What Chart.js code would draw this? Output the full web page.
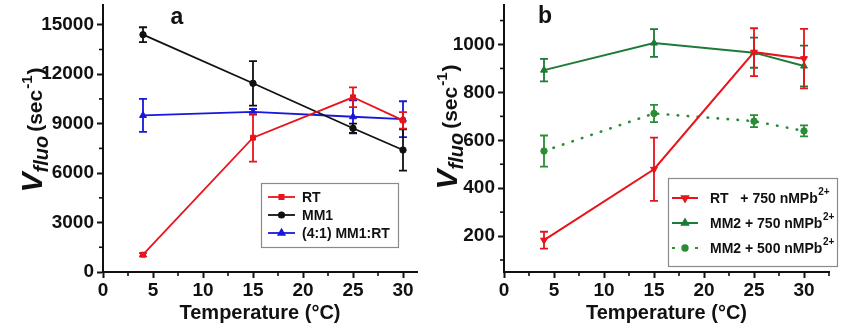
<!DOCTYPE html>
<html>
<head>
<meta charset="utf-8">
<script src="https://cdn.jsdelivr.net/npm/chart.js@4.4.0/dist/chart.umd.min.js"></script>
<style>
  html, body { margin: 0; padding: 0; background: #fff; }
  #wrap { position: relative; width: 850px; height: 333px; overflow: hidden; }
  .panel { position: absolute; top: 0; width: 425px; height: 333px; }
</style>
</head>
<body>
<div id="wrap">
  <div class="panel" style="left:0"><canvas id="chartA" width="425" height="333"></canvas></div>
  <div class="panel" style="left:425px"><canvas id="chartB" width="425" height="333"></canvas></div>
</div>
<script>
// Measurement temperatures (°C)
const temperatures = [4, 15, 25, 30];

// Panel a: fluorescence rate (sec^-1) and error (±)
const rtA      = [1050, 8150, 10600, 9200];
const rtAErr   = [100, 1450, 600, 500];
const mm1A     = [14400, 11450, 8720, 7400];
const mm1AErr  = [450, 1350, 280, 1250];
const mixA     = [9500, 9720, 9420, 9270];
const mixAErr  = [1000, 170, 1000, 1090];
const namesA   = ['RT', 'MM1', '(4:1) MM1:RT'];

// Panel b: fluorescence rate (sec^-1) and error (±)
const rt750B     = [183, 479, 968, 941];
const rt750BErr  = [35, 132, 100, 124];
const mm2750B    = [893, 1006, 966, 910];
const mm2750BErr = [47, 58, 63, 85];
const mm2500B    = [555, 712, 680, 639];
const mm2500BErr = [65, 36, 25, 23];
const namesB     = ['RT   + 750 nMPb', 'MM2 + 750 nMPb', 'MM2 + 500 nMPb'];
const ionSup     = '2+';

// Axis tick values
const xTicks      = [0, 5, 10, 15, 20, 25, 30];
const xMinorTicks = [2.5, 7.5, 12.5, 17.5, 22.5, 27.5, 32.5];
const yTicksA      = [0, 3000, 6000, 9000, 12000, 15000];
const yMinorTicksA = [1500, 4500, 7500, 10500, 13500];
const yTicksB      = [200, 400, 600, 800, 1000];
const yMinorTicksB = [100, 300, 500, 700, 900, 1100];

const RED = '#e8141b', BLACK = '#111111', BLUE = '#1818d8', GREEN = '#1d7a38', GREEN2 = '#2a8c35';
const FONT = "'Liberation Sans', Arial, Helvetica, sans-serif";

Chart.defaults.font.family = FONT;
Chart.defaults.color = BLACK;

function points(vals) {
  return temperatures.map((t, i) => ({ x: t, y: vals[i] }));
}

// Vertical error bars with caps, drawn under each series' line and markers
const errorBars = {
  id: 'errorBars',
  beforeDatasetDraw(chart, args) {
    const ds = chart.data.datasets[args.index];
    if (!ds.errors) return;
    const ctx = chart.ctx, xs = chart.scales.x, ys = chart.scales.y;
    ctx.save();
    ctx.strokeStyle = ds.borderColor;
    ctx.lineWidth = 1.8;
    ctx.setLineDash([]);
    ds.data.forEach((p, i) => {
      const e = ds.errors[i];
      const px = xs.getPixelForValue(p.x);
      const top = ys.getPixelForValue(p.y + e);
      const bot = ys.getPixelForValue(p.y - e);
      ctx.beginPath();
      ctx.moveTo(px, top); ctx.lineTo(px, bot);
      ctx.moveTo(px - 4, top); ctx.lineTo(px + 4, top);
      ctx.moveTo(px - 4, bot); ctx.lineTo(px + 4, bot);
      ctx.stroke();
    });
    ctx.restore();
  }
};

// Short unlabelled ticks between the major ones
const minorTicks = {
  id: 'minorTicks',
  afterDraw(chart, args, opts) {
    const { ctx, chartArea: a, scales: { x, y } } = chart;
    ctx.save();
    ctx.strokeStyle = BLACK;
    ctx.lineWidth = 1.6;
    (opts.x || []).forEach(v => {
      if (v > x.max) return;
      const p = x.getPixelForValue(v);
      ctx.beginPath(); ctx.moveTo(p, a.bottom); ctx.lineTo(p, a.bottom + 4); ctx.stroke();
    });
    (opts.y || []).forEach(v => {
      if (v > y.max || v < y.min) return;
      const p = y.getPixelForValue(v);
      ctx.beginPath(); ctx.moveTo(a.left, p); ctx.lineTo(a.left - 4, p); ctx.stroke();
    });
    ctx.restore();
  }
};

// Rotated y-axis title: V_fluo (sec^-1)
function drawYTitle(ctx, baseX, centerY) {
  const parts = [
    { t: 'V',    font: `italic bold 30px ${FONT}`, dy: 0,  gap: 0 },
    { t: 'fluo', font: `italic bold 20px ${FONT}`, dy: 6,  gap: 0 },
    { t: '(sec', font: `bold 21px ${FONT}`,        dy: 0,  gap: 4 },
    { t: '-1',   font: `bold 15px ${FONT}`,        dy: -10, gap: 1 },
    { t: ')',    font: `bold 21px ${FONT}`,        dy: 0,  gap: 1 }
  ];
  ctx.save();
  let total = 0;
  parts.forEach(p => { ctx.font = p.font; p.w = ctx.measureText(p.t).width; total += p.w + p.gap; });
  ctx.translate(baseX, centerY);
  ctx.rotate(-Math.PI / 2);
  ctx.fillStyle = BLACK;
  ctx.textBaseline = 'alphabetic';
  let x = -total / 2;
  parts.forEach(p => {
    x += p.gap;
    ctx.font = p.font;
    ctx.fillText(p.t, x, p.dy);
    x += p.w;
  });
  ctx.restore();
}

// Boxed legend built from the chart's datasets
function drawLegend(chart, cfg) {
  const ctx = chart.ctx;
  ctx.save();
  ctx.fillStyle = '#fff';
  ctx.fillRect(cfg.x, cfg.y, cfg.w, cfg.h);
  ctx.strokeStyle = '#8a8a8a';
  ctx.lineWidth = 1.2;
  ctx.strokeRect(cfg.x + 0.5, cfg.y + 0.5, cfg.w, cfg.h);
  chart.data.datasets.forEach((ds, i) => {
    const cy = cfg.rowY[i];
    ctx.save();
    ctx.strokeStyle = ds.borderColor;
    ctx.lineWidth = ds.legendWidth || ds.borderWidth;
    ctx.lineCap = 'butt';
    ctx.setLineDash(ds.legendDash || []);
    ctx.beginPath();
    ctx.moveTo(cfg.lineX0, cy); ctx.lineTo(cfg.lineX1, cy);
    ctx.stroke();
    ctx.setLineDash([]);
    ctx.fillStyle = ds.pointBackgroundColor;
    Chart.helpers.drawPoint(ctx, {
      pointStyle: ds.pointStyle, rotation: ds.pointRotation || 0,
      radius: ds.pointRadius - 0.5, borderWidth: 1
    }, (cfg.lineX0 + cfg.lineX1) / 2, cy);
    ctx.restore();
    ctx.fillStyle = BLACK;
    ctx.font = `bold ${cfg.size}px ${FONT}`;
    ctx.textBaseline = 'middle';
    ctx.fillText(ds.label, cfg.textX, cy + 1);
    if (cfg.sup) {
      const w = ctx.measureText(ds.label).width;
      ctx.font = `bold ${cfg.supSize}px ${FONT}`;
      ctx.fillText(cfg.sup, cfg.textX + w + 0.5, cy - 6);
    }
  });
  ctx.restore();
}

const panelDecor = {
  id: 'panelDecor',
  afterDraw(chart, args, opts) {
    const ctx = chart.ctx;
    drawYTitle(ctx, opts.titleX, opts.titleY);
    ctx.save();
    ctx.fillStyle = BLACK;
    ctx.font = `bold 23px ${FONT}`;
    ctx.textBaseline = 'alphabetic';
    ctx.textAlign = 'center';
    ctx.fillText(opts.letter, opts.letterX, opts.letterY);
    ctx.restore();
    drawLegend(chart, opts.legend);
  }
};

function makeOptions(cfg) {
  const axisFont = { family: FONT, size: 19, weight: 'bold' };
  const plain = v => String(v);
  return {
    responsive: false,
    animation: false,
    events: [],
    layout: { padding: { left: 0, top: cfg.padTop, right: cfg.padRight, bottom: 0 } },
    elements: { line: { tension: 0 } },
    plugins: {
      legend: { display: false },
      tooltip: { enabled: false },
      minorTicks: { x: xMinorTicks, y: cfg.yMinor },
      panelDecor: cfg.decor
    },
    scales: {
      x: {
        type: 'linear',
        min: 0,
        max: cfg.xMax,
        afterBuildTicks(s) { s.ticks = xTicks.map(v => ({ value: v })); },
        afterFit(s) { s.height = 333 - cfg.bottom; s.paddingLeft = 0; s.paddingRight = 0; },
        grid: { display: true, drawOnChartArea: false, drawTicks: true, tickLength: 6, tickWidth: 2, tickColor: BLACK },
        border: { display: true, color: BLACK, width: 2 },
        ticks: { font: axisFont, color: BLACK, padding: 1, maxRotation: 0, autoSkip: false, callback: plain },
        title: { display: true, text: 'Temperature (°C)', color: BLACK,
                 font: { family: FONT, size: 20, weight: 'bold' }, padding: { top: 0, bottom: 8 } }
      },
      y: {
        type: 'linear',
        min: cfg.yMin,
        max: cfg.yMax,
        afterBuildTicks(s) { s.ticks = cfg.yTicks.map(v => ({ value: v })); },
        afterFit(s) { s.width = cfg.left; s.paddingTop = 0; s.paddingBottom = 0; },
        grid: { display: true, drawOnChartArea: false, drawTicks: true, tickLength: 6, tickWidth: 2, tickColor: BLACK },
        border: { display: true, color: BLACK, width: 2 },
        ticks: { font: axisFont, color: BLACK, padding: 3, autoSkip: false, callback: plain }
      }
    }
  };
}

function series(label, vals, errs, color, style, extra) {
  return Object.assign({
    label: label,
    data: points(vals),
    errors: errs,
    borderColor: color,
    backgroundColor: color,
    pointBackgroundColor: color,
    pointBorderColor: color,
    borderWidth: 1.8,
    pointStyle: style,
    pointRadius: 3.5,
    pointBorderWidth: 1
  }, extra || {});
}

new Chart(document.getElementById('chartA'), {
  type: 'line',
  data: {
    datasets: [
      series(namesA[0], rtA, rtAErr, RED, 'rect', { pointRadius: 3.5 }),
      series(namesA[1], mm1A, mm1AErr, BLACK, 'circle', { pointRadius: 3.2 }),
      series(namesA[2], mixA, mixAErr, BLUE, 'triangle', { pointRadius: 4 })
    ]
  },
  options: makeOptions({
    padTop: 5, padRight: 8, left: 103, bottom: 272, xMax: 31.4,
    yMin: 0, yMax: 16200, yTicks: yTicksA, yMinor: yMinorTicksA,
    decor: {
      titleX: 42, titleY: 130, letter: 'a', letterX: 177, letterY: 24,
      legend: { x: 261, y: 183, w: 137, h: 64, rowY: [197, 215, 233],
                lineX0: 268, lineX1: 295, textX: 302, size: 14 }
    }
  }),
  plugins: [errorBars, minorTicks, panelDecor]
});

new Chart(document.getElementById('chartB'), {
  type: 'line',
  data: {
    datasets: [
      series(namesB[0], rt750B, rt750BErr, RED, 'triangle', { pointRotation: 180, pointRadius: 4, borderWidth: 2 }),
      series(namesB[1], mm2750B, mm2750BErr, GREEN, 'triangle', { pointRadius: 4, borderWidth: 2 }),
      series(namesB[2], mm2500B, mm2500BErr, GREEN2, 'circle',
             { pointRadius: 3.2, borderWidth: 2.6, borderDash: [0.5, 9.5], borderCapStyle: 'round',
               legendDash: [3, 20], legendWidth: 2 })
    ]
  },
  options: makeOptions({
    padTop: 3, padRight: 21, left: 79, bottom: 272, xMax: 32.5,
    yMin: 50, yMax: 1165, yTicks: yTicksB, yMinor: yMinorTicksB,
    decor: {
      titleX: 32, titleY: 127, letter: 'b', letterX: 120, letterY: 23,
      legend: { x: 243, y: 178, w: 169, h: 88, rowY: [198, 223, 248],
                lineX0: 247, lineX1: 273, textX: 285, size: 14, sup: ionSup, supSize: 10 }
    }
  }),
  plugins: [errorBars, minorTicks, panelDecor]
});
</script>
</body>
</html>
